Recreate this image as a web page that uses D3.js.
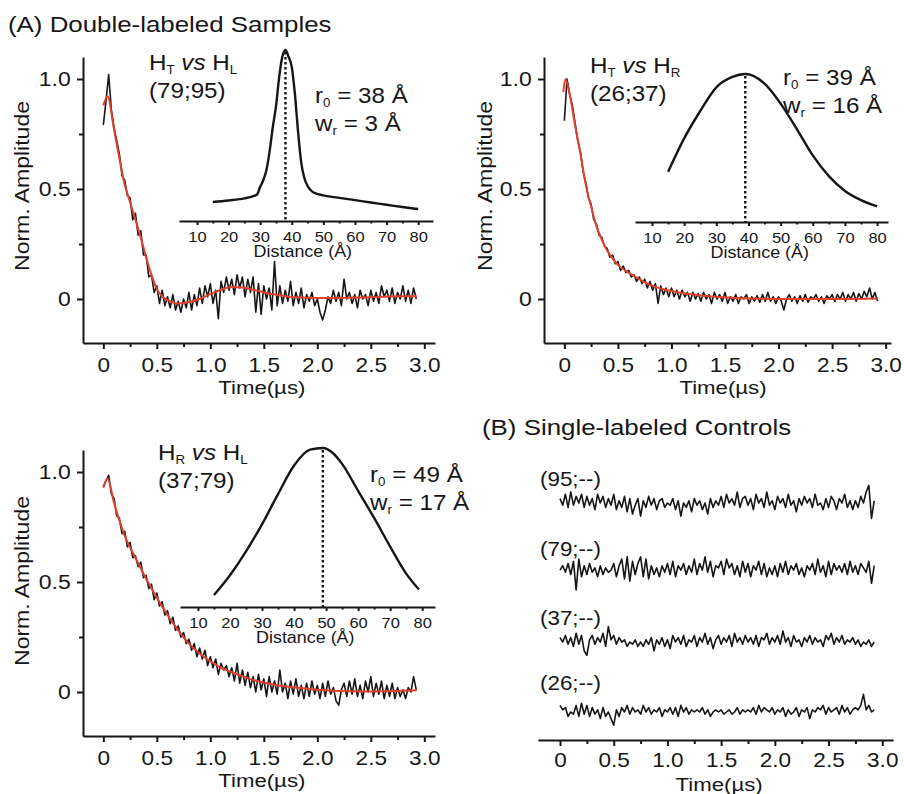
<!DOCTYPE html>
<html><head><meta charset="utf-8">
<script src="https://cdn.jsdelivr.net/npm/d3@7"></script>
<style>
body{margin:0;background:#fff}
text{font-family:Arial,"Liberation Sans",Helvetica,sans-serif;fill:#161616}
</style>
</head><body>
<svg id="c" width="904" height="794"></svg>
<script>
// ---------------- DATA ----------------
const dt = 0.025; // sampling interval of the traces (µs)
const timeTicks = [0, 0.5, 1.0, 1.5, 2.0, 2.5, 3.0];
const timeTickLabels = ["0", "0.5", "1.0", "1.5", "2.0", "2.5", "3.0"];
const timeMinorTicks = [0.25, 0.75, 1.25, 1.75, 2.25, 2.75];
const ampTicks = [0, 0.5, 1.0];
const ampTickLabels = ["0", "0.5", "1.0"];
const ampMinorTicks = [0.25, 0.75];
const distTicks = [10, 20, 30, 40, 50, 60, 70, 80];
const distMinorTicks = [15, 25, 35, 45, 55, 65, 75];

const pairNames = [["H","T","H","L"], ["H","T","H","R"], ["H","R","H","L"]];
const pairIds = ["(79;95)", "(26;37)", "(37;79)"];
const r0Values = [38, 39, 49];
const wrValues = [3, 16, 17];
const controlLabels = ["(95;--)", "(79;--)", "(37;--)", "(26;--)"];

// H_T vs H_L (79;95)
const traceHTHL = [
 0.79, 0.90, 1.02, 0.86, 0.78, 0.72, 0.66, 0.56, 0.54, 0.47,
 0.46, 0.36, 0.39, 0.29, 0.31, 0.20, 0.20, 0.10, 0.11, 0.03,
 0.06, -0.02, 0.04, -0.03, 0.01, -0.04, 0.02, -0.05, -0.01, -0.06,
 0.00, -0.04, 0.03, -0.05, 0.02, -0.03, 0.05, -0.02, 0.06, 0.01,
 0.07, -0.02, 0.04, -0.09, 0.08, 0.03, 0.10, 0.04, 0.09, 0.02,
 0.11, 0.05, 0.10, 0.01, 0.09, 0.03, 0.10, -0.06, 0.07, -0.07,
 0.06, 0.00, 0.05, -0.05, 0.17, -0.03, 0.06, -0.02, 0.04, -0.01,
 0.08, -0.03, 0.03, -0.02, 0.05, -0.04, 0.02, -0.01, 0.03, -0.03,
 0.00, -0.06, -0.095, -0.05, 0.01, -0.02, 0.04, -0.01, 0.03, -0.03,
 0.09, 0.00, 0.03, -0.02, 0.02, -0.04, 0.04, 0.00, 0.02, -0.03,
 0.04, -0.01, 0.03, -0.02, 0.06, 0.01, 0.04, -0.01, 0.05, -0.02,
 0.03, 0.00, 0.06, -0.01, 0.04, -0.02, 0.05, 0.00];
const fitTimeHTHL = [0,0.04,0.1,0.15,0.2,0.25,0.3,0.35,0.4,0.45,0.5,0.55,0.6,0.7,0.8,0.9,1.0,1.1,1.2,1.3,1.4,1.5,1.6,1.7,1.8,2.0,2.2,2.4,2.6,2.8,2.93];
const fitHTHL = [0.88,0.92,0.77,0.64,0.52,0.44,0.36,0.28,0.19,0.11,0.045,0.012,-0.005,-0.02,-0.015,0.0,0.022,0.042,0.055,0.052,0.042,0.03,0.02,0.013,0.008,0.005,0.005,0.007,0.01,0.012,0.013];
const distRHTHL = [15,20,25,28,29,30,31,32,33,34,35,36,37,38,39,40,41,42,43,44,45,46,48,50,55,60,65,70,75,80];
const distPHTHL = [0.111,0.12,0.132,0.147,0.155,0.2,0.24,0.3,0.41,0.55,0.67,0.84,0.96,1.0,0.96,0.9,0.74,0.52,0.34,0.25,0.205,0.18,0.158,0.15,0.135,0.122,0.108,0.095,0.082,0.07];

// H_T vs H_R (26;37)
const traceHTHR = [
 0.81, 1.0, 0.93, 0.88, 0.80, 0.72, 0.67, 0.58, 0.53, 0.46,
 0.43, 0.36, 0.34, 0.29, 0.28, 0.24, 0.23, 0.19, 0.20, 0.16,
 0.17, 0.13, 0.15, 0.12, 0.13, 0.10, 0.11, 0.08, 0.10, 0.07,
 0.09, 0.05, 0.08, 0.04, 0.07, -0.02, 0.06, 0.02, 0.05, 0.01,
 0.05, 0.01, 0.04, 0.00, 0.04, 0.01, 0.03, -0.01, 0.03, 0.00,
 0.025, -0.01, 0.03, 0.00, 0.02, -0.02, 0.03, 0.00, 0.02, -0.01,
 0.03, -0.02, 0.01, -0.01, 0.02, -0.02, 0.01, 0.00, 0.02, -0.02,
 0.01, -0.01, 0.015, -0.015, 0.02, -0.01, 0.03, -0.01, 0.01, -0.02,
 0.01, -0.01, -0.05, 0.00, 0.02, -0.01, 0.01, -0.02, 0.015, -0.01,
 0.02, -0.015, 0.01, 0.00, 0.02, -0.01, 0.01, -0.02, 0.015, 0.00,
 0.02, -0.01, 0.02, 0.00, 0.03, -0.01, 0.02, 0.00, 0.03, -0.01,
 0.025, 0.00, 0.035, 0.01, 0.05, 0.00, 0.03, -0.01];
const fitTimeHTHR = [-0.01,0.01,0.05,0.1,0.15,0.2,0.25,0.3,0.35,0.4,0.45,0.5,0.6,0.7,0.8,0.9,1.0,1.1,1.2,1.4,1.6,1.8,2.0,2.5,2.93];
const fitHTHR = [0.94,1.0,0.93,0.79,0.66,0.52,0.42,0.33,0.27,0.22,0.185,0.155,0.12,0.09,0.064,0.048,0.036,0.027,0.02,0.01,0.005,0.002,0.0,0.0,0.002];
const distRHTHR = [15,20,25,30,35,39,45,50,55,60,65,70,75,80];
const distPHTHR = [0.34,0.565,0.75,0.91,0.98,1.0,0.935,0.8,0.63,0.45,0.31,0.21,0.148,0.105];

// H_R vs H_L (37;79)
const traceHRHL = [
 0.93, 0.96, 0.985, 0.90, 0.88, 0.80, 0.79, 0.72, 0.73, 0.66,
 0.68, 0.61, 0.62, 0.57, 0.59, 0.52, 0.53, 0.47, 0.49, 0.42,
 0.45, 0.39, 0.41, 0.35, 0.37, 0.31, 0.34, 0.28, 0.30, 0.25,
 0.27, 0.22, 0.24, 0.19, 0.22, 0.16, 0.20, 0.15, 0.19, 0.12,
 0.16, 0.11, 0.15, 0.08, 0.13, 0.10, 0.12, 0.07, 0.11, 0.05,
 0.13, 0.04, 0.10, 0.03, 0.09, 0.02, 0.07, 0.00, 0.08, 0.01,
 0.06, -0.02, 0.07, 0.00, 0.05, -0.01, 0.10, 0.00, 0.04, -0.03,
 0.05, -0.01, 0.06, -0.02, 0.03, -0.03, 0.04, -0.02, 0.05, -0.01,
 0.03, -0.03, 0.04, -0.02, 0.05, -0.01, 0.02, -0.04, -0.06, 0.01,
 0.04, -0.02, 0.05, -0.01, 0.06, -0.02, 0.03, -0.03, 0.05, 0.00,
 0.07, -0.02, 0.04, -0.01, 0.05, -0.03, 0.03, -0.02, 0.04, -0.03,
 0.02, -0.02, 0.01, -0.03, 0.02, 0.00, 0.07, 0.01];
const fitTimeHRHL = [0,0.04,0.1,0.2,0.3,0.4,0.5,0.6,0.7,0.8,0.9,1.0,1.1,1.2,1.3,1.4,1.5,1.6,1.8,2.0,2.2,2.4,2.6,2.8,2.93];
const fitHRHL = [0.93,0.97,0.86,0.71,0.61,0.515,0.43,0.35,0.28,0.22,0.175,0.14,0.11,0.09,0.072,0.055,0.043,0.033,0.02,0.01,0.004,0.002,0.003,0.006,0.008];
const distRHRHL = [15,20,25,30,35,40,45,49,52,55,60,65,70,75,79];
const distPHRHL = [0.075,0.2,0.35,0.52,0.71,0.89,0.99,1.0,0.97,0.9,0.73,0.56,0.38,0.21,0.11];

// single-labeled controls
const control95 = [
 0.02, -0.01, 0.04, -0.02, 0.05, -0.01, 0.03, 0.00, 0.04, -0.02,
 0.03, -0.01, 0.02, -0.03, 0.04, 0.00, 0.03, -0.02, 0.02, -0.01,
 0.04, -0.03, 0.01, -0.02, 0.03, -0.04, 0.02, -0.05, -0.01, 0.02,
 -0.06, 0.01, -0.02, 0.03, -0.01, 0.02, -0.03, 0.01, 0.02, -0.02,
 0.00, -0.01, 0.02, -0.03, 0.01, -0.06, 0.00, -0.02, 0.01, -0.04,
 0.02, -0.01, 0.01, -0.03, 0.00, -0.05, 0.02, -0.02, 0.01, -0.01,
 0.03, -0.02, 0.04, 0.00, 0.02, -0.01, 0.05, -0.02, 0.02, 0.03,
 -0.01, 0.02, -0.03, 0.04, 0.00, 0.02, -0.02, 0.05, -0.01, 0.01,
 -0.03, 0.03, 0.00, 0.02, -0.02, 0.04, -0.01, 0.01, -0.04, 0.02,
 -0.01, 0.03, 0.00, 0.02, -0.02, 0.04, -0.01, 0.00, -0.03, 0.02,
 -0.02, 0.03, 0.01, -0.03, 0.02, 0.00, 0.04, -0.02, 0.01, -0.03,
 0.01, -0.02, 0.03, 0.00, 0.05, 0.08, -0.07, 0.01];
const control79 = [
 0.00, 0.02, -0.01, 0.03, -0.02, 0.04, -0.09, 0.05, -0.03, 0.02,
 -0.02, 0.03, -0.01, 0.01, -0.03, 0.02, -0.02, 0.01, -0.01, 0.00,
 0.03, -0.03, 0.02, 0.05, -0.04, 0.06, -0.05, 0.04, -0.02, 0.03,
 0.06, -0.03, 0.05, -0.04, 0.02, -0.02, 0.01, -0.03, 0.02, -0.01,
 0.03, -0.02, 0.04, -0.03, 0.02, 0.00, 0.03, -0.02, 0.02, -0.01,
 0.05, -0.02, 0.03, 0.00, 0.06, -0.01, 0.04, -0.03, 0.02, 0.01,
 0.04, -0.02, 0.05, 0.01, 0.03, -0.02, 0.02, -0.03, 0.04, -0.01,
 0.03, -0.03, 0.02, 0.00, 0.04, -0.02, 0.03, -0.03, 0.01, -0.02,
 0.02, -0.03, 0.03, -0.01, 0.04, -0.02, 0.02, 0.00, 0.03, -0.02,
 0.01, -0.03, 0.02, 0.00, 0.03, -0.02, 0.05, -0.01, 0.02, -0.03,
 0.04, -0.02, 0.03, 0.00, 0.02, -0.01, 0.03, -0.02, 0.04, -0.01,
 0.02, -0.02, 0.03, 0.01, -0.01, 0.04, -0.06, 0.02];
const control37 = [
 0.02, 0.00, 0.03, -0.01, 0.02, -0.02, 0.04, -0.01, 0.03, -0.04,
 -0.06, 0.01, 0.03, -0.01, 0.02, 0.00, 0.04, -0.02, 0.07, 0.01,
 0.03, -0.01, 0.02, 0.00, 0.01, -0.02, 0.00, -0.01, 0.01, -0.02,
 0.00, -0.02, 0.01, -0.01, 0.02, -0.04, 0.01, -0.01, 0.02, -0.02,
 0.01, -0.03, 0.03, 0.00, 0.02, -0.01, 0.03, -0.02, 0.01, 0.00,
 0.03, -0.02, 0.02, 0.00, 0.04, -0.01, 0.02, -0.03, 0.01, 0.03,
 -0.01, 0.02, 0.00, 0.03, -0.02, 0.04, 0.00, 0.02, -0.01, 0.03,
 0.00, 0.02, -0.01, 0.03, -0.02, 0.02, 0.01, 0.04, -0.01, 0.02,
 0.00, 0.03, -0.01, 0.05, 0.00, 0.02, -0.02, 0.03, 0.00, 0.01,
 -0.02, 0.02, 0.00, 0.03, -0.01, 0.02, 0.00, 0.01, -0.02, 0.03,
 0.01, 0.04, -0.01, 0.02, 0.00, 0.03, -0.01, 0.01, 0.00, 0.02,
 -0.01, 0.01, -0.02, 0.00, -0.01, 0.01, -0.02, 0.00];
const control26 = [
 0.03, 0.01, 0.02, -0.02, 0.00, -0.01, 0.03, -0.02, 0.04, -0.01,
 0.03, -0.02, 0.02, -0.01, 0.01, -0.03, 0.02, -0.02, 0.00, -0.03,
 -0.06, 0.01, -0.02, 0.02, 0.00, 0.03, -0.01, 0.02, 0.00, 0.01,
 -0.01, 0.03, 0.00, 0.02, -0.01, 0.01, 0.00, 0.02, -0.02, 0.01,
 0.00, 0.02, -0.01, 0.02, -0.02, 0.03, 0.00, 0.02, -0.01, 0.01,
 0.00, 0.01, 0.00, 0.02, -0.01, 0.01, -0.02, 0.00, 0.01, 0.00,
 0.01, -0.01, 0.00, 0.01, -0.01, 0.00, 0.02, -0.01, 0.01, 0.00,
 0.01, 0.00, 0.02, -0.01, 0.03, 0.00, 0.02, 0.01, 0.00, 0.02,
 -0.01, 0.01, 0.00, 0.02, -0.02, 0.01, -0.01, 0.00, 0.02, -0.02,
 0.01, 0.00, 0.02, -0.03, 0.01, 0.00, 0.02, 0.01, 0.03, -0.01,
 0.02, 0.00, 0.01, 0.02, -0.01, 0.03, 0.00, 0.02, -0.01, 0.01,
 0.02, 0.01, 0.03, 0.08, 0.01, 0.03, 0.00, 0.01];

// ---------------- LAYOUT / DRAWING ----------------
const INK = "#161616", RED = "#e3402c";
const svg = d3.select("#c");

function stext(g, x, y, str, size, sx, anchor) {
  return g.append("text")
    .attr("transform", `translate(${x},${y}) scale(${sx},1)`)
    .attr("font-size", size).attr("text-anchor", anchor || "start").text(str);
}
function styleAxis(g, size, sx) {
  g.attr("font-family", null).attr("font-size", null);
  g.select(".domain").attr("stroke", INK).attr("stroke-width", 2);
  g.selectAll(".tick line").attr("stroke", INK).attr("stroke-width", 2);
  g.selectAll(".tick text").attr("font-size", size).attr("fill", INK)
    .attr("transform", `scale(${sx},1)`);
}
function subText(g, x, y, parts, size) {
  const t = g.append("text").attr("transform", `translate(${x},${y}) scale(1.1,1)`).attr("font-size", size);
  let shifted = false;
  parts.forEach(p => {
    const ts = t.append("tspan").text(p.t);
    if (p.sub) { ts.attr("font-size", size * 0.55).attr("dy", shifted ? 0 : 4); shifted = true; }
    else { if (shifted) { ts.attr("dy", -4); shifted = false; } }
    if (p.it) ts.attr("font-style", "italic");
  });
  return t;
}

const panels = [
  { trace: traceHTHL, fitT: fitTimeHTHL, fitV: fitHTHL, distR: distRHTHL, distP: distPHTHL, k: 0,
    xR: [83, 435], xDom: [-0.19, 3.1], yR: [343, 57],
    inset: { xR: [179, 433], xDom: [4.3, 84.7], yR: [221, 50] },
    yLab: [22, 186], pairPos: [149, 70], paramPos: [315, 103] },
  { trace: traceHTHR, fitT: fitTimeHTHR, fitV: fitHTHR, distR: distRHTHR, distP: distPHTHR, k: 1,
    xR: [544, 891], xDom: [-0.19, 3.05], yR: [343, 57],
    inset: { xR: [635, 888], xDom: [4.7, 83.4], yR: [222, 74] },
    yLab: [485, 186], pairPos: [590, 73], paramPos: [783, 85] },
  { trace: traceHRHL, fitT: fitTimeHRHL, fitV: fitHRHL, distR: distRHRHL, distP: distPHRHL, k: 2,
    xR: [83, 435], xDom: [-0.19, 3.1], yR: [736, 450],
    inset: { xR: [180, 435], xDom: [4.4, 84], yR: [607, 448] },
    yLab: [22, 581], pairPos: [158, 460], paramPos: [370, 482] }
];

function timeAxis(g, x, y0, labOff, pad) {
  const gx = g.append("g").attr("transform", `translate(0,${y0})`)
    .call(d3.axisBottom(x).tickValues(timeTicks).tickFormat((d, i) => timeTickLabels[i])
      .tickSize(6).tickSizeOuter(0).tickPadding(pad));
  styleAxis(gx, 20, 1.13);
  const gm = g.append("g").attr("transform", `translate(0,${y0})`)
    .call(d3.axisBottom(x).tickValues(timeMinorTicks).tickFormat("").tickSize(4).tickSizeOuter(0));
  gm.select(".domain").remove(); styleAxis(gm, 19, 1);
  stext(g, x(1.5) - 2, y0 + labOff, "Time(\u00b5s)", 19, 1.17, "middle");
}

panels.forEach(p => {
  const g = svg.append("g");
  const x = d3.scaleLinear().domain(p.xDom).range(p.xR);
  const y = d3.scaleLinear().domain([-0.2, 1.1]).range(p.yR);
  timeAxis(g, x, p.yR[0], 51, 9);
  const gy = g.append("g").attr("transform", `translate(${p.xR[0]},0)`)
    .call(d3.axisLeft(y).tickValues(ampTicks).tickFormat((d, i) => ampTickLabels[i])
      .tickSize(6).tickSizeOuter(0).tickPadding(5));
  styleAxis(gy, 20.5, 1.12);
  const gym = g.append("g").attr("transform", `translate(${p.xR[0]},0)`)
    .call(d3.axisLeft(y).tickValues(ampMinorTicks).tickFormat("").tickSize(4).tickSizeOuter(0));
  gym.select(".domain").remove(); styleAxis(gym, 19, 1);
  g.append("text").attr("transform", `translate(${p.yLab[0]},${p.yLab[1]}) rotate(-90) scale(1.18,1)`)
    .attr("font-size", 19.5).attr("text-anchor", "middle").attr("dy", "0.35em").text("Norm. Amplitude");

  // data + fit
  g.append("path").attr("fill", "none").attr("stroke", INK).attr("stroke-width", 1.6)
    .attr("stroke-linejoin", "round")
    .attr("d", d3.line().x((d, i) => x(i * dt)).y(d => y(d))(p.trace));
  g.append("path").attr("fill", "none").attr("stroke", RED).attr("stroke-width", 2)
    .attr("d", d3.line().x((d, i) => x(p.fitT[i])).y(d => y(d)).curve(d3.curveMonotoneX)(p.fitV));

  // inset distance distribution
  const xi = d3.scaleLinear().domain(p.inset.xDom).range(p.inset.xR);
  const yi = d3.scaleLinear().domain([0, 1]).range(p.inset.yR);
  const ia = p.inset.yR[0];
  const gi = g.append("g").attr("transform", `translate(0,${ia})`)
    .call(d3.axisBottom(xi).tickValues(distTicks).tickSize(4).tickSizeOuter(0).tickPadding(6));
  styleAxis(gi, 15, 1.1);
  const gim = g.append("g").attr("transform", `translate(0,${ia})`)
    .call(d3.axisBottom(xi).tickValues(distMinorTicks).tickFormat("").tickSize(2.5).tickSizeOuter(0));
  gim.select(".domain").remove(); styleAxis(gim, 14, 1);
  stext(g, xi(43.5), ia + 36, "Distance (\u00c5)", 16, 1.12, "middle");
  g.append("path").attr("fill", "none").attr("stroke", INK).attr("stroke-width", 2.4)
    .attr("d", d3.line().x((d, i) => xi(p.distR[i])).y(d => yi(d)).curve(d3.curveMonotoneX)(p.distP));
  const r0 = r0Values[p.k];
  g.append("line").attr("x1", xi(r0)).attr("x2", xi(r0)).attr("y1", yi(d3.max(p.distP)) + 2).attr("y2", yi(0))
    .attr("stroke", INK).attr("stroke-width", 2.4).attr("stroke-dasharray", "2.5,2.5");

  // labels
  const n = pairNames[p.k];
  subText(g, p.pairPos[0], p.pairPos[1],
    [{ t: n[0] }, { t: n[1], sub: true }, { t: " vs ", it: true }, { t: n[2] }, { t: n[3], sub: true }], 22);
  stext(g, p.pairPos[0], p.pairPos[1] + 28, pairIds[p.k], 22, 1.1);
  subText(g, p.paramPos[0], p.paramPos[1], [{ t: "r" }, { t: "0", sub: true }, { t: " = " + r0 + " \u00c5" }], 22);
  subText(g, p.paramPos[0], p.paramPos[1] + 28, [{ t: "w" }, { t: "r", sub: true }, { t: " = " + wrValues[p.k] + " \u00c5" }], 22);
});

// titles
stext(svg, 8, 32, "(A) Double-labeled Samples", 22.5, 1.15);
stext(svg, 482, 435, "(B) Single-labeled Controls", 22.5, 1.15);

// panel B
(function () {
  const g = svg.append("g");
  const x = d3.scaleLinear().domain([-0.205, 3.1]).range([538, 893]);
  const y = d3.scaleLinear().domain([0, 1]).range([712, 492]);
  timeAxis(g, x, 740, 51, 7);
  const controls = [control95, control79, control37, control26];
  const offsets = [0.95, 0.645, 0.318, 0.0];
  const labelY = [486, 556, 625, 690];
  controls.forEach((c, j) => {
    g.append("path").attr("fill", "none").attr("stroke", INK).attr("stroke-width", 1.6)
      .attr("stroke-linejoin", "round")
      .attr("d", d3.line().x((d, i) => x(i * dt)).y(d => y(d + offsets[j]))(c));
    stext(g, 540, labelY[j], controlLabels[j], 20, 1.12);
  });
})();
</script>
</body></html>
